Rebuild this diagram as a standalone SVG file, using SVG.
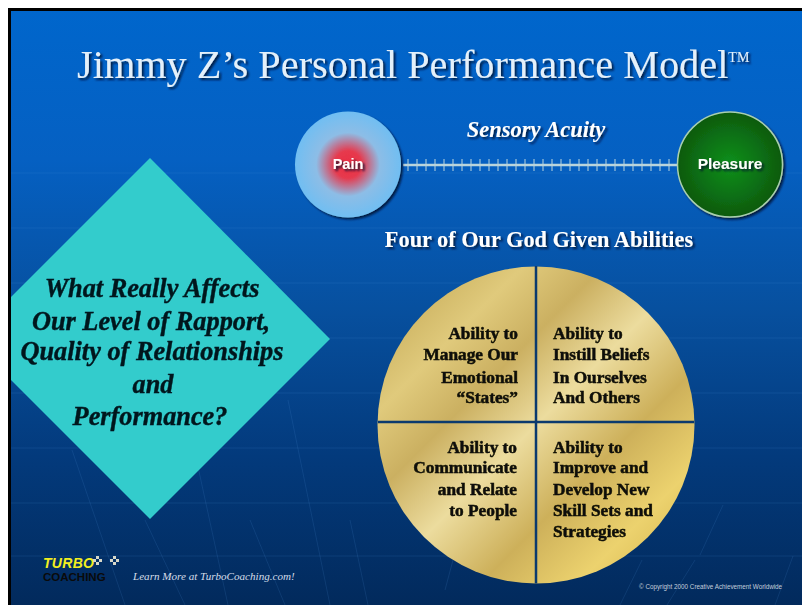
<svg xmlns="http://www.w3.org/2000/svg" width="802" height="605" viewBox="0 0 802 605">
<defs>
<linearGradient id="bg" x1="0" y1="0" x2="0" y2="1"><stop offset="0" stop-color="#0066cc"/><stop offset="0.25" stop-color="#0560c2"/><stop offset="0.5" stop-color="#07509f"/><stop offset="0.75" stop-color="#033a7c"/><stop offset="1" stop-color="#022a5c"/></linearGradient>
<radialGradient id="pain"><stop offset="0" stop-color="#ea2e42"/><stop offset="0.26" stop-color="#e63a4e"/><stop offset="0.6" stop-color="#8dbde6"/><stop offset="1" stop-color="#70bef2"/></radialGradient>
<radialGradient id="pleasure"><stop offset="0" stop-color="#10901c"/><stop offset="1" stop-color="#075a0e"/></radialGradient>
<linearGradient id="gold" x1="0.05" y1="0.05" x2="0.95" y2="0.95"><stop offset="0" stop-color="#c4a956"/><stop offset="0.2" stop-color="#e0ca7c"/><stop offset="0.34" stop-color="#cbb061"/><stop offset="0.5" stop-color="#ecdc9e"/><stop offset="0.68" stop-color="#cdb05a"/><stop offset="0.85" stop-color="#ecd26e"/><stop offset="1" stop-color="#d8b850"/></linearGradient>
<filter id="sh" x="-20%" y="-20%" width="140%" height="140%"><feGaussianBlur in="SourceAlpha" stdDeviation="0.9" result="a"/><feOffset in="a" dx="1.500" dy="2" result="b"/><feFlood flood-color="#001030" flood-opacity="0.85"/><feComposite in2="b" operator="in" result="c"/><feGaussianBlur in="SourceGraphic" stdDeviation="0.35" result="d"/><feMerge><feMergeNode in="c"/><feMergeNode in="d"/></feMerge></filter>
<filter id="soft" x="-5%" y="-5%" width="110%" height="110%"><feGaussianBlur stdDeviation="0.5"/></filter>
<style>
.t{font-family:"Liberation Serif",serif}
.s{font-family:"Liberation Sans",sans-serif;font-weight:bold;fill:#fff;text-anchor:middle;filter:url(#sh)}
.q{font-family:"Liberation Serif",serif;font-weight:bold;font-size:17.300px;fill:#0c0c08;stroke:#0c0c08;stroke-width:.5px;filter:url(#soft)}
.q1{text-anchor:end}
.d{font-family:"Liberation Serif",serif;font-weight:bold;font-style:italic;font-size:26.300px;fill:#06161e;stroke:#06161e;stroke-width:.4px;text-anchor:middle;filter:url(#soft)}
.g{stroke:#5a9be0;stroke-opacity:.14;fill:none}
</style>
</defs>
<rect width="802" height="605" fill="#fff"/>
<rect x="11" y="11" width="791" height="594" fill="url(#bg)"/>
<g id="background-lines" class="g">
<path d="M11 173H802M11 228H802M11 283H802M11 338H802M11 393H802M11 448H802M11 503H802M11 556H802"/>
<path d="M72 450L125 605M190 430L228 605M288 400L330 605M145 520L185 605M250 520L285 605M350 520L368 605M620 605L642 560M667 605L695 560M700 555L723 505M775 605L793 556M445 590L453 560"/>
</g>
<g id="title"><text class="t" x="77" y="78" font-size="40.300" fill="#e4f0fa" filter="url(#sh)">Jimmy Z’s Personal Performance Model<tspan font-size="14" dy="-16">TM</tspan></text></g>
<g id="connectors">
<path d="M403 165H678" stroke="#b9d4dc" stroke-width="2.500"/>
<path d="M408 159V171M417 159V171M426 159V171M435 159V171M444 159V171M453 159V171M462 159V171M471 159V171M480 159V171M489 159V171M498 159V171M507 159V171M516 159V171M525 159V171M534 159V171M543 159V171M552 159V171M561 159V171M570 159V171M579 159V171M588 159V171M597 159V171M606 159V171M615 159V171M624 159V171M633 159V171M642 159V171M651 159V171M660 159V171M669 159V171" stroke="#b9d4dc" stroke-width="1"/>
</g>
<g id="sensory"><text class="t" x="536" y="137" font-size="22.500" font-weight="bold" font-style="italic" fill="#fff" text-anchor="middle" filter="url(#sh)">Sensory Acuity</text></g>
<g id="pain"><circle cx="348" cy="164.500" r="53" fill="url(#pain)" filter="url(#sh)"/><text class="s" x="348" y="169" font-size="14.500">Pain</text></g>
<g id="pleasure"><circle cx="730" cy="164.500" r="52.500" fill="url(#pleasure)" stroke="#a9cfae" stroke-width="1.500" filter="url(#sh)"/><text class="s" x="730" y="169" font-size="15.500">Pleasure</text></g>
<g id="abilities-heading"><text class="t" x="539" y="247" font-size="22.300" font-weight="bold" fill="#fff" text-anchor="middle" filter="url(#sh)">Four of Our God Given Abilities</text></g>
<g id="diamond"><polygon points="150,158 330,339 150,519 11,380 11,297" fill="#33cccc"/>
<text class="d"><tspan x="152" y="297">What Really Affects</tspan><tspan x="151" y="330">Our Level of Rapport,</tspan><tspan x="152" y="360">Quality of Relationships</tspan><tspan x="153" y="393">and</tspan><tspan x="150" y="425">Performance?</tspan></text></g>
<g id="wheel"><circle cx="536" cy="425" r="158.500" fill="url(#gold)"/><path d="M536 266V583.500M378 422H694" stroke="#0b3a6e" stroke-width="2.500"/></g>
<g id="q1"><text class="q q1"><tspan x="518" y="339">Ability to</tspan><tspan x="518" y="360">Manage Our</tspan><tspan x="518" y="383">Emotional</tspan><tspan x="518" y="403">“States”</tspan></text></g>
<g id="q2"><text class="q"><tspan x="553" y="339">Ability to</tspan><tspan x="553" y="360">Instill Beliefs</tspan><tspan x="553" y="383">In Ourselves</tspan><tspan x="553" y="403">And Others</tspan></text></g>
<g id="q3"><text class="q q1"><tspan x="517" y="453">Ability to</tspan><tspan x="517" y="473">Communicate</tspan><tspan x="517" y="495">and Relate</tspan><tspan x="517" y="516">to People</tspan></text></g>
<g id="q4"><text class="q"><tspan x="553" y="453">Ability to</tspan><tspan x="553" y="473">Improve and</tspan><tspan x="553" y="495">Develop New</tspan><tspan x="553" y="516">Skill Sets and</tspan><tspan x="553" y="537">Strategies</tspan></text></g>
<g id="logo"><text x="43" y="568" font-family="Liberation Sans,sans-serif" font-weight="bold" font-style="italic" font-size="14" fill="#f2ee20" letter-spacing=".3">TURBO</text><text x="43" y="581" font-family="Liberation Sans,sans-serif" font-weight="bold" font-size="11.500" fill="#0a0a0a">COACHING</text>
<path d="M93 559h3v3h-3zM99 559h3v3h-3zM96 556h3v3h-3zM96 562h3v3h-3zM110 559h3v3h-3zM116 559h3v3h-3zM113 556h3v3h-3zM113 562h3v3h-3z" fill="#d8d8c8"/></g>
<g id="footer"><text class="t" x="133" y="580" font-size="11.100" font-style="italic" fill="#d5dde8">Learn More at TurboCoaching.com!</text><text x="639" y="589" font-family="Liberation Sans,sans-serif" font-size="6.300" fill="#c5cfdc">© Copyright 2000 Creative Achievement Worldwide</text></g>
<path id="frame" d="M9.500 605V9.500H802" fill="none" stroke="#000" stroke-width="3"/>
</svg>
